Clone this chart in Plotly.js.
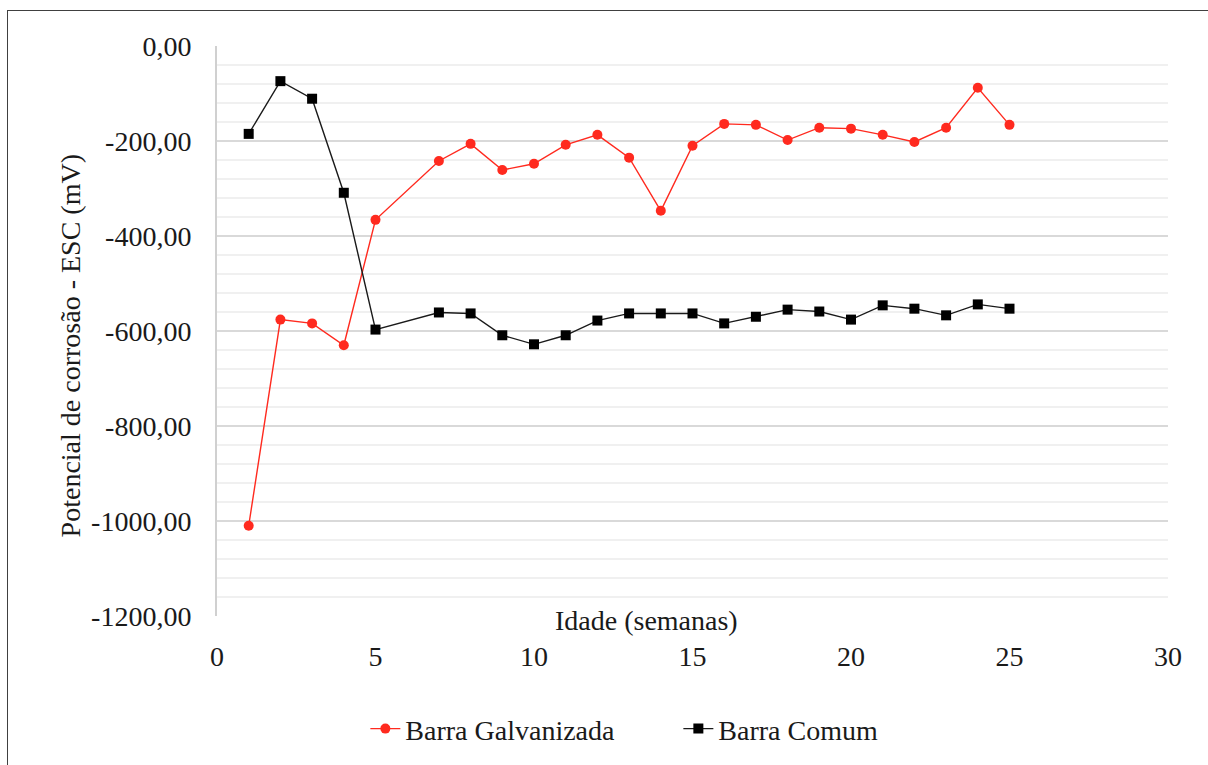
<!DOCTYPE html>
<html>
<head>
<meta charset="utf-8">
<script src="https://cdn.plot.ly/plotly-3.0.1.min.js"></script>
<style>
html,body{margin:0;padding:0;background:#fff;}
#chart{width:1208px;height:765px;}
#frame{position:absolute;left:7px;top:10px;width:1210px;height:770px;border:1.5px solid #404040;pointer-events:none;box-sizing:border-box;}
</style>
</head>
<body>
<div id="chart"></div>
<div id="frame"></div>
<script>
const weeks = [1,2,3,4,5,7,8,9,10,11,12,13,14,15,16,17,18,19,20,21,22,23,24,25];
const galvanizada = [-1010,-576,-584,-630,-366,-242,-206,-261,-248,-208,-187,-235,-347,-210,-164,-166,-198,-172,-174,-187,-202,-172,-88,-166];
const comum = [-185,-74,-111,-309,-597,-561,-563,-609,-628,-609,-578,-563,-563,-563,-584,-570,-555,-559,-576,-546,-553,-567,-544,-553];
const yTickVals = [0,-200,-400,-600,-800,-1000,-1200];
const yTickText = ['0,00','-200,00','-400,00','-600,00','-800,00','-1000,00','-1200,00'];
const xTickVals = [0,5,10,15,20,25,30];
const xTickText = ['0','5','10','15','20','25','30'];

const fam = 'Liberation Serif';
const txt = '#1a1a1a';

const traces = [
  {x: weeks, y: galvanizada, name: 'Barra Galvanizada', mode: 'lines+markers',
   line: {color: '#ff2a1f', width: 1.4}, marker: {symbol: 'circle', size: 10, color: '#ff2a1f'}},
  {x: weeks, y: comum, name: 'Barra Comum', mode: 'lines+markers',
   line: {color: '#1a1a1a', width: 1.4}, marker: {symbol: 'square', size: 10, color: '#000000'}}
];

const layout = {
  width: 1208, height: 765,
  margin: {l: 217, r: 40, t: 46, b: 148},
  paper_bgcolor: '#ffffff', plot_bgcolor: '#ffffff',
  font: {family: fam, color: txt, size: 28},
  showlegend: true,
  legend: {orientation: 'h', x: 0.156, xanchor: 'left', y: -0.196, yanchor: 'middle',
           font: {family: fam, size: 28, color: txt}, entrywidth: 268, entrywidthmode: 'pixels'},
  xaxis: {range: [0, 30], tickvals: xTickVals, ticktext: xTickText, showgrid: false,
          zeroline: false, showline: false, ticks: 'outside', ticklen: 15, tickcolor: 'rgba(0,0,0,0)',
          tickfont: {family: fam, size: 28, color: txt}},
  yaxis: {range: [-1200, 0], tickvals: yTickVals, ticktext: yTickText,
          showgrid: true, gridcolor: '#d9d9d9', gridwidth: 2,
          minor: {dtick: 40, tick0: 0, showgrid: true, gridcolor: '#f0f0f0', gridwidth: 1.5},
          zeroline: false, showline: true, linecolor: '#d0d0d0', linewidth: 2,
          ticks: 'outside', ticklen: 18, tickcolor: 'rgba(0,0,0,0)',
          tickfont: {family: fam, size: 28, color: txt}},
  annotations: [
    {text: 'Idade (semanas)', xref: 'x', x: 13.55, yref: 'paper', y: 0, xanchor: 'center', yanchor: 'middle',
     yshift: -4, showarrow: false, font: {family: fam, size: 28, color: txt}},
    {text: 'Potencial de corrosão - ESC (mV)', xref: 'paper', x: 0, xshift: -147, xanchor: 'center',
     yref: 'paper', y: 0.473, yanchor: 'middle', textangle: -90, showarrow: false,
     font: {family: fam, size: 28, color: txt}}
  ]
};

Plotly.newPlot('chart', traces, layout, {displayModeBar: false, staticPlot: true});
</script>
</body>
</html>
